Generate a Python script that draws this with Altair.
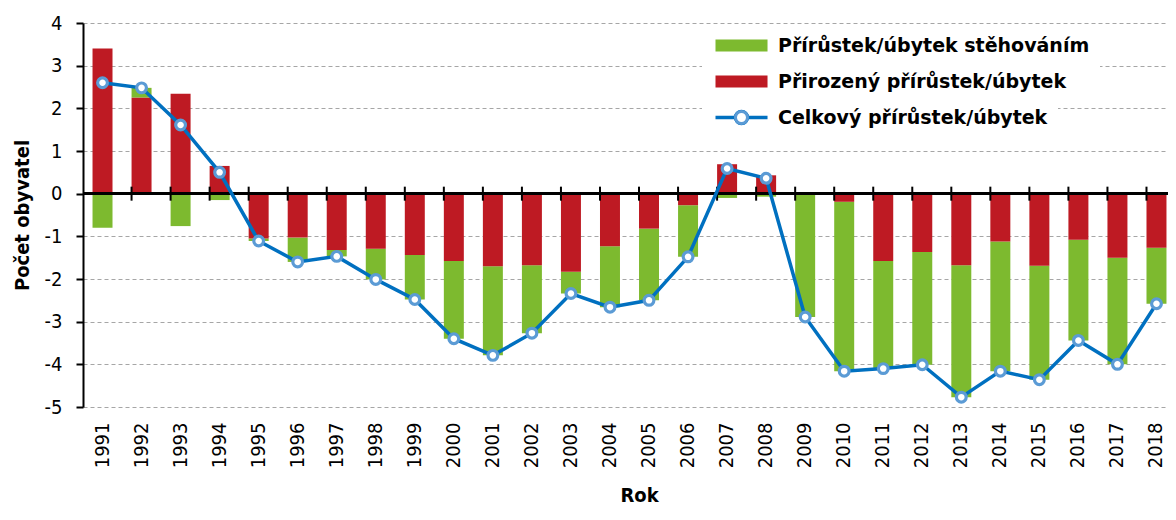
import altair as alt
import pandas as pd

years = [str(y) for y in range(1991, 2019)]
natural = [3.40, 2.25, 2.34, 0.65, -1.05, -1.03, -1.32, -1.29, -1.44, -1.58,
           -1.70, -1.68, -1.83, -1.23, -0.82, -0.27, 0.69, 0.43, 0.00, -0.19,
           -1.58, -1.37, -1.68, -1.12, -1.69, -1.08, -1.50, -1.27]
migration = [-0.80, 0.23, -0.76, -0.15, -0.06, -0.57, -0.15, -0.72, -1.04, -1.82,
             -2.09, -1.59, -0.51, -1.43, -1.68, -1.21, -0.10, -0.07, -2.89, -3.97,
             -2.52, -2.64, -3.09, -3.04, -2.67, -2.36, -2.50, -1.31]
total = [2.60, 2.48, 1.61, 0.50, -1.11, -1.60, -1.47, -2.01, -2.48, -3.40,
         -3.79, -3.27, -2.34, -2.66, -2.50, -1.48, 0.59, 0.36, -2.89, -4.16,
         -4.10, -4.01, -4.77, -4.16, -4.36, -3.44, -4.00, -2.58]
y_ticks = [-5, -4, -3, -2, -1, 0, 1, 2, 3, 4]

MIG = "Přírůstek/úbytek stěhováním"
NAT = "Přirozený přírůstek/úbytek"
TOT = "Celkový přírůstek/úbytek"

GREEN = "#7DBA2F"
RED = "#BE1A23"
BLUE = "#0070C0"
LIGHT = "#5B9BD5"
FONT = "DejaVu Sans Condensed, DejaVu Sans"
LEG_FONT = "DejaVu Sans"

n = len(years)
bars_df = pd.DataFrame({
    "Rok": years * 2,
    "value": migration + natural,
    "series": [MIG] * n + [NAT] * n,
    "ord": [1] * n + [0] * n,
})
tot_df = pd.DataFrame({"Rok": years, "value": total, "series": [TOT] * n})
tick_df = pd.DataFrame({"Rok": years[1:]})

# band range slightly wider than the visible plot (reference plot runs off the right edge)
x_scale = alt.Scale(domain=years, range=[0, 1093], paddingInner=0.488, paddingOuter=0.244)
y_scale = alt.Scale(domain=[-5, 4], nice=False, zero=False)

x_axis = alt.Axis(
    title="Rok", labelAngle=-90, labelFont=FONT, labelFontSize=20, labelColor="black",
    labelPadding=15, ticks=False, tickSize=0, domain=False, grid=False,
    titleFont=FONT, titleFontSize=20, titleFontWeight="bold", titleColor="black",
    titleX=556, titleY=94, titleBaseline="alphabetic",
)
y_axis = alt.Axis(
    title="Počet obyvatel", values=y_ticks, labelExpr="'' + datum.value",
    labelFont=FONT, labelFontSize=20,
    labelColor="black", labelPadding=14, tickSize=7, tickWidth=2, tickColor="black",
    domain=True, domainColor="black", domainWidth=2,
    grid=True, gridColor="#a6a6a6", gridDash=[4, 3], gridWidth=1,
    titleFont=FONT, titleFontSize=20, titleFontWeight="bold", titleColor="black",
    titleX=-51, titleBaseline="bottom",
)

bar_path = "M-1,-1H7.67V1H-1Z"
line_path = "M-1,0H2.33M4.33,0H7.67M4.33,0A1,1,0,1,1,2.33,0A1,1,0,1,1,4.33,0Z"
circle_path = "M4.33,0A1,1,0,1,1,2.33,0A1,1,0,1,1,4.33,0Z"

LEG_COMMON = dict(
    title=None, orient="none", legendX=619, symbolSize=144, symbolOpacity=1,
    labelOffset=47, labelFont=LEG_FONT, labelFontSize=19, labelFontWeight="bold",
    labelColor="black", padding=10, labelLimit=400,
)

bars = alt.Chart(bars_df).mark_bar().encode(
    x=alt.X("Rok:O", scale=x_scale, axis=x_axis),
    y=alt.Y("value:Q", stack="zero", scale=y_scale, axis=y_axis),
    fill=alt.Fill("series:N", scale=alt.Scale(domain=[MIG, NAT], range=[GREEN, RED]),
                  legend=alt.Legend(legendY=3, symbolType=bar_path, symbolStrokeWidth=0,
                                    rowPadding=16, fillColor="white", **LEG_COMMON)),
    order=alt.Order("ord:Q"),
)

zero = alt.Chart(tick_df).mark_rule(color="black", strokeWidth=2).encode(
    y=alt.datum(0)
)
ticks = alt.Chart(tick_df).mark_rule(color="black", strokeWidth=2).encode(
    x=alt.X("Rok:O", bandPosition=0),
    y=alt.datum(0.164),
    y2=alt.datum(-0.164),
)

line = alt.Chart(tot_df).mark_line(strokeWidth=3.5).encode(
    x=alt.X("Rok:O"),
    y=alt.Y("value:Q"),
    stroke=alt.Stroke("series:N", scale=alt.Scale(domain=[TOT], range=[BLUE]),
                      legend=alt.Legend(legendY=75, symbolType=line_path,
                                        symbolStrokeWidth=3.5, symbolFillColor="white",
                                        fillColor="white", **LEG_COMMON)),
)
points = alt.Chart(tot_df).mark_point(
    shape="circle", size=95, filled=True, fill="white", strokeWidth=3.2, opacity=1
).encode(
    x=alt.X("Rok:O"),
    y=alt.Y("value:Q"),
    stroke=alt.Stroke("series:N", scale=alt.Scale(domain=[TOT], range=[LIGHT]),
                      legend=alt.Legend(legendY=75, symbolType=circle_path,
                                        symbolStrokeWidth=3, symbolFillColor="white",
                                        labelOpacity=0, **LEG_COMMON)),
)

chart = alt.layer(bars, zero, ticks, line, points).resolve_scale(
    stroke="independent"
).properties(
    width=1085, height=384,
    autosize=alt.AutoSizeParams(type="none"),
    padding={"left": 75, "top": 15, "right": 0, "bottom": 100},
    background="white",
).configure_view(stroke=None)

chart.save("out.html", embed_options={"renderer": "svg", "actions": False})
